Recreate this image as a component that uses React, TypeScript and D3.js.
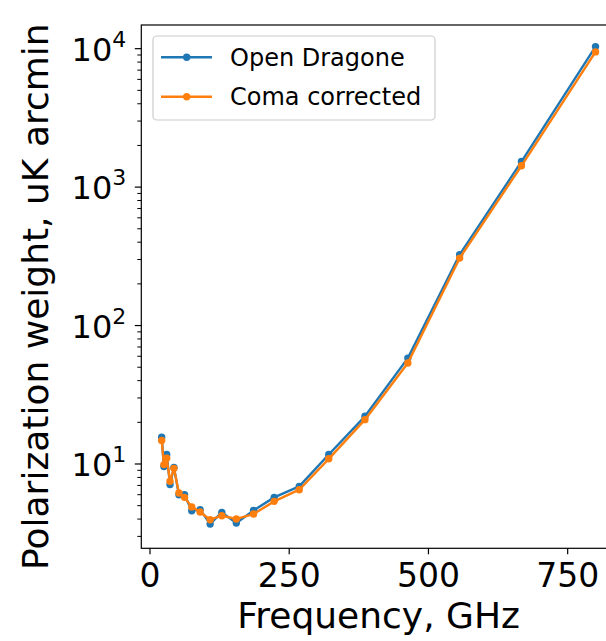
import React from "react";
import * as d3 from "d3";

const freqs = [21, 25, 30, 36, 43, 52, 62, 75, 90, 108, 129, 155, 186, 223, 268, 321, 386, 463, 556, 667, 800];
const openDragone = [15.6, 9.6, 11.7, 7.1, 9.45, 6.0, 6.0, 4.6, 4.68, 3.69, 4.47, 3.75, 4.62, 5.74, 6.89, 11.7, 22.1, 58.2, 325, 1530, 10350];
const comaCorrected = [14.8, 9.9, 11.0, 7.5, 9.3, 6.17, 5.74, 4.9, 4.5, 3.96, 4.23, 4.01, 4.35, 5.37, 6.52, 10.9, 20.9, 53.6, 307, 1425, 9480];
const xTicks = [0, 250, 500, 750];
const yMajor = [10, 100, 1000, 10000];
const seriesNames = ["Open Dragone", "Coma corrected"];
const colors = ["#1f77b4", "#ff7f0e"];

const W = 606, H = 641;
const L = 141.3, R = 617.8, T = 25, B = 548.3;
const FONT = "DejaVu Sans, sans-serif";

export default function App() {
  const x = d3.scaleLinear().domain([-15.6, 840]).range([L, R]);
  const y = d3.scaleLog().domain([Math.pow(10, 0.391), Math.pow(10, 4.171)]).range([B, T]);
  const [y0, y1] = y.domain();
  const minor: number[] = [];
  for (let e = 0; e <= 4; e++) {
    for (let m = 2; m <= 9; m++) {
      const v = m * Math.pow(10, e);
      if (v >= y0 && v <= y1) minor.push(v);
    }
  }
  const line = d3.line<[number, number]>().x(d => x(d[0])).y(d => y(d[1]));
  const series = [openDragone, comaCorrected].map(vals => freqs.map((f, i) => [f, vals[i]] as [number, number]));

  return (
    <svg width={W} height={H} style={{ position: "absolute", left: 0, top: 0, background: "#fff" }} fontFamily={FONT}>
      <rect x={0} y={0} width={W} height={H} fill="#fff" />
      {series.map((s, i) => (
        <g key={i}>
          <path d={line(s) || ""} fill="none" stroke={colors[i]} strokeWidth={2.4} strokeLinejoin="round" />
          {s.map((d, j) => (
            <circle key={j} cx={x(d[0])} cy={y(d[1])} r={3.7} fill={colors[i]} />
          ))}
        </g>
      ))}
      {/* spines */}
      <rect x={L} y={T} width={R - L} height={B - T} fill="none" stroke="#000" strokeWidth={1.2} />
      {/* x ticks */}
      {xTicks.map(t => (
        <g key={t}>
          <line x1={x(t)} x2={x(t)} y1={B} y2={B + 6} stroke="#000" strokeWidth={1.2} />
          <text x={x(t)} y={B + 39} textAnchor="middle" fontSize={33} fill="#000">{t}</text>
        </g>
      ))}
      {/* y ticks */}
      {minor.map(v => (
        <line key={"m" + v} x1={L - 4} x2={L} y1={y(v)} y2={y(v)} stroke="#000" strokeWidth={1} />
      ))}
      {yMajor.map(v => (
        <g key={v}>
          <line x1={L - 6.5} x2={L} y1={y(v)} y2={y(v)} stroke="#000" strokeWidth={1.2} />
          <text x={L - 15} y={y(v) + 12} textAnchor="end" fontSize={32} fill="#000">
            10<tspan fontSize={22} dy={-14}>{Math.round(Math.log10(v))}</tspan>
          </text>
        </g>
      ))}
      {/* labels */}
      <text x={(L + R) / 2 - 1} y={628} textAnchor="middle" fontSize={36} fill="#000">Frequency, GHz</text>
      <text transform={`translate(48,${(T + B) / 2 + 10}) rotate(-90)`} textAnchor="middle" fontSize={36} fill="#000">
        Polarization weight, uK arcmin
      </text>
      {/* legend */}
      <rect x={153} y={36} width={282} height={84} rx={4} fill="#fff" fillOpacity={0.8} stroke="#cccccc" strokeWidth={1.2} />
      {seriesNames.map((n, i) => {
        const ly = 57.3 + i * 39.4;
        return (
          <g key={n}>
            <line x1={161} x2={212} y1={ly} y2={ly} stroke={colors[i]} strokeWidth={2.4} />
            <circle cx={186.7} cy={ly} r={3.7} fill={colors[i]} />
            <text x={230} y={ly + 8.5} fontSize={24} fill="#000">{n}</text>
          </g>
        );
      })}
    </svg>
  );
}
